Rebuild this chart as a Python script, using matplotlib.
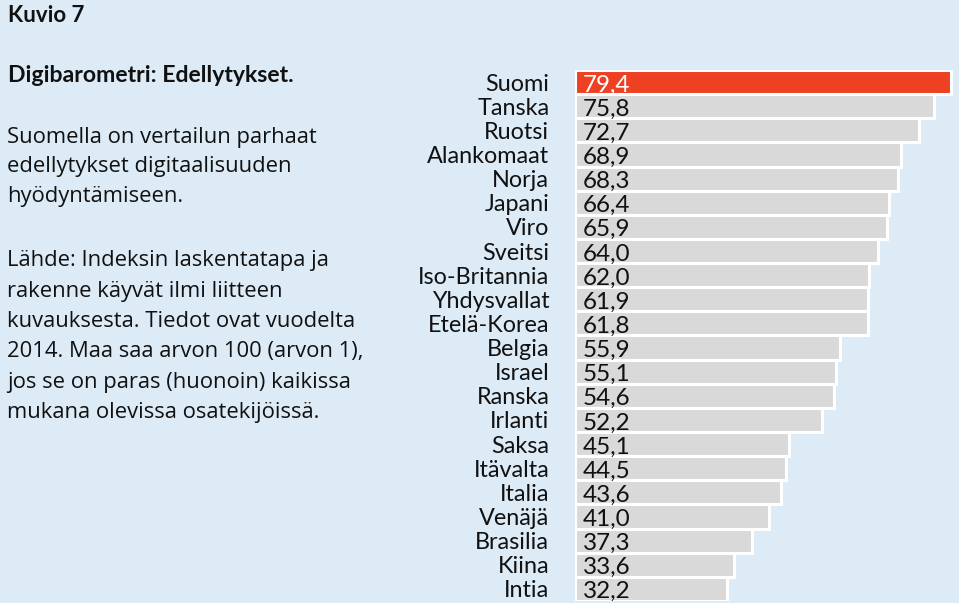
import matplotlib
matplotlib.use("Agg")
import matplotlib.pyplot as plt

countries = ["Suomi", "Tanska", "Ruotsi", "Alankomaat", "Norja", "Japani", "Viro",
             "Sveitsi", "Iso-Britannia", "Yhdysvallat", "Etelä-Korea", "Belgia",
             "Israel", "Ranska", "Irlanti", "Saksa", "Itävalta", "Italia", "Venäjä",
             "Brasilia", "Kiina", "Intia"]
values = [79.4, 75.8, 72.7, 68.9, 68.3, 66.4, 65.9, 64.0, 62.0, 61.9, 61.8, 55.9,
          55.1, 54.6, 52.2, 45.1, 44.5, 43.6, 41.0, 37.3, 33.6, 32.2]

title = "Kuvio 7"
subtitle = "Digibarometri: Edellytykset."
para1 = ["Suomella on vertailun parhaat", "edellytykset digitaalisuuden", "hyödyntämiseen."]
para2 = ["Lähde: Indeksin laskentatapa ja", "rakenne käyvät ilmi liitteen",
         "kuvauksesta. Tiedot ovat vuodelta", "2014. Maa saa arvon 100 (arvon 1),",
         "jos se on paras (huonoin) kaikissa", "mukana olevissa osatekijöissä."]

BG = "#dcebf6"
W, H = 959, 603
fig = plt.figure(figsize=(W / 100, H / 100), dpi=100, facecolor=BG)

n = len(countries)
top_px, bot_px = 70, 601
left_px, right_px = 575, 959
ax = fig.add_axes([left_px / W, 1 - bot_px / H, (right_px - left_px) / W, (bot_px - top_px) / H])
ax.set_facecolor(BG)
ax.patch.set_alpha(0)
colors = ["#ee4023"] + ["#d9d9d9"] * (n - 1)
ypos = list(range(n))
ax.barh(ypos, values, height=1.0, color=colors, edgecolor="white", linewidth=2.2)
ax.set_ylim(n - 0.5, -0.5)
ax.set_xlim(0, (right_px - left_px) / 4.735)
for s in ax.spines.values():
    s.set_visible(False)
ax.set_xticks([])
ax.set_yticks(ypos)
ax.set_yticklabels(countries, fontsize=16.8, family="Lato", color="#111111")
ax.tick_params(axis="y", length=0, pad=18.5)
for i, v in enumerate(values):
    ax.text(1.7, i + 0.12, f"{v:.1f}".replace(".", ","), va="center", ha="left",
            fontsize=17.5, family="Lato", color="white" if i == 0 else "#111111")

fig.text(8 / W, 1 - 16 / H, title, fontsize=16, family="Lato", weight="bold",
         va="center", ha="left", color="#111111")
fig.text(8 / W, 1 - 76 / H, subtitle, fontsize=16.6, family="Lato", weight="bold",
         va="center", ha="left", color="#111111")
y = 137
for line in para1:
    fig.text(7 / W, 1 - y / H, line, fontsize=15.8, family="Open Sans",
             va="center", ha="left", color="#111111")
    y += 29.5
y = 261
for line in para2:
    fig.text(7 / W, 1 - y / H, line, fontsize=15.8, family="Open Sans",
             va="center", ha="left", color="#111111")
    y += 30.3

fig.savefig("out.png", dpi=100, facecolor=BG)
